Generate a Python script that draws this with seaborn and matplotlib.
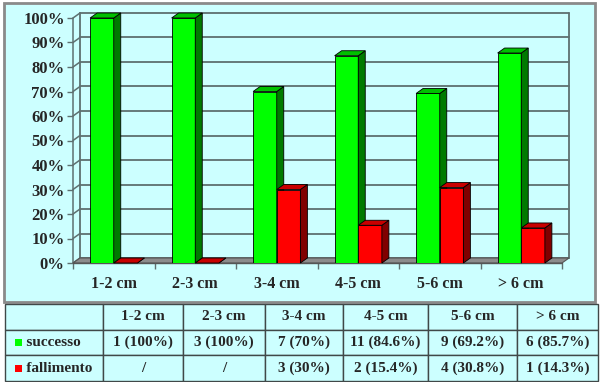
import matplotlib
matplotlib.use("Agg")
import matplotlib.pyplot as plt
from matplotlib.patches import Polygon, Rectangle
import numpy as np
import pandas as pd
import seaborn as sns

sizes = ["1-2 cm", "2-3 cm", "3-4 cm", "4-5 cm", "5-6 cm", "> 6 cm"]
outcomes = ["successo", "fallimento"]
succ_pct = [100, 100, 70, 84.6, 69.2, 85.7]
fail_pct = [0, 0, 30, 15.4, 30.8, 14.3]
succ_n = [1, 3, 7, 11, 9, 6]
fail_n = [None, None, 3, 2, 4, 1]
y_ticks = [0, 10, 20, 30, 40, 50, 60, 70, 80, 90, 100]

BG = "#CCFFFF"
shades = {
    "successo": ("#00FF00", "#007A00", "#00C000"),
    "fallimento": ("#FF0000", "#800000", "#C80000"),
}


def cell_text(n, p):
    if n is None:
        return "/"
    return f"{n} ({p:g}%)"


def main():
    sns.set_style("white")
    plt.rcParams["font.family"] = ["Liberation Serif", "DejaVu Serif"]
    plt.rcParams["font.weight"] = "bold"

    df = pd.DataFrame({
        "size": sizes * 2,
        "esito": ["successo"] * 6 + ["fallimento"] * 6,
        "pct": succ_pct + fail_pct,
    })

    W, H = 600, 382
    fig = plt.figure(figsize=(6, 3.82), dpi=100)
    fig.patch.set_facecolor("white")
    frame = Rectangle((4 / W, (H - 302) / H), 591 / W, 299 / H,
                      transform=fig.transFigure, facecolor=BG,
                      edgecolor="#8A8A8A", linewidth=2, zorder=-5)
    fig.patches.append(frame)

    ax = fig.add_axes([73 / W, (H - 263) / H, 489 / W, 245 / H])
    ax.patch.set_alpha(0)

    sns.barplot(data=df, x="size", y="pct", hue="esito", hue_order=outcomes,
                order=sizes, palette={k: v[0] for k, v in shades.items()},
                width=0.58, gap=0, saturation=1, edgecolor="black",
                linewidth=0.6, legend=False, errorbar=None, ax=ax)

    ax.set_xlim(-0.5, 5.5)
    ax.set_ylim(0, 100)
    for s in ax.spines.values():
        s.set_visible(False)

    # 3D depth offset in data units
    dx, dy = 7 / 81.5, 5 / 2.45
    grid_c = "#5E7070"
    x_left, x_right = -0.5, 5.5

    # back wall grid + left wall connectors
    for v in y_ticks:
        ax.plot([x_left + dx, x_right + dx], [v + dy, v + dy], color=grid_c,
                lw=1.3, zorder=0.5, clip_on=False)
        ax.plot([x_left, x_left + dx], [v, v + dy], color=grid_c, lw=1.1,
                zorder=0.5, clip_on=False)
    for xe in (x_left + dx, x_right + dx):
        ax.plot([xe, xe], [dy, 100 + dy], color=grid_c, lw=1.3, zorder=0.5,
                clip_on=False)
    ax.plot([x_left, x_left], [0, 100], color=grid_c, lw=1.1, zorder=0.5,
            clip_on=False)

    # floor
    ax.add_patch(Polygon([(x_left, 0), (x_right, 0), (x_right + dx, dy),
                          (x_left + dx, dy)], closed=True, facecolor="#8C8C8C",
                         edgecolor="#555555", lw=0.8, zorder=1, clip_on=False))

    # sides and tops of the bars
    for z, (cont, name) in enumerate(zip(ax.containers, outcomes)):
        face, side, top = shades[name]
        for bar in cont:
            x0, w, h = bar.get_x(), bar.get_width(), bar.get_height()
            x1 = x0 + w
            bar.set_zorder(3 + z)
            ax.add_patch(Polygon([(x1, 0), (x1 + dx, dy), (x1 + dx, h + dy),
                                  (x1, h)], closed=True, facecolor=side,
                                 edgecolor="black", lw=0.6, zorder=3 + z,
                                 clip_on=False))
            ax.add_patch(Polygon([(x0, h), (x0 + dx, h + dy), (x1 + dx, h + dy),
                                  (x1, h)], closed=True, facecolor=top,
                                 edgecolor="black", lw=0.6, zorder=3 + z,
                                 clip_on=False))

    ax.set_yticks(y_ticks)
    ax.set_yticklabels([f"{v}%" for v in y_ticks], fontsize=12,
                       fontweight="bold")
    ax.tick_params(axis="y", length=4, width=1, color=grid_c, pad=2, left=True)
    ax.set_xticks(range(len(sizes)))
    ax.set_xticklabels(sizes, fontsize=11.5, fontweight="bold")
    ax.set_xticks(np.arange(-0.5, 6, 1), minor=True)
    ax.tick_params(axis="x", which="major", length=0, pad=9)
    ax.tick_params(axis="x", which="minor", length=4, width=1, color=grid_c,
                   bottom=True)
    ax.plot([x_left, x_right], [0, 0], color="#555555", lw=1, zorder=1.5,
            clip_on=False)
    ax.set_xlabel("")
    ax.set_ylabel("")

    # data table
    tax = fig.add_axes([5 / W, 1 / H, 593 / W, 77 / H])
    tax.axis("off")
    col_px = [98, 80, 82, 78, 85, 89, 81]
    col_w = [c / sum(col_px) for c in col_px]
    rows = [[""] + sizes,
            ["     successo"] + [cell_text(n, p) for n, p in zip(succ_n, succ_pct)],
            ["     fallimento"] + [cell_text(n, p) for n, p in zip(fail_n, fail_pct)]]
    tbl = tax.table(cellText=rows, colWidths=col_w, bbox=[0, 0, 1, 1],
                    cellLoc="center")
    tbl.auto_set_font_size(False)
    for (r, c), cell in tbl.get_celld().items():
        cell.set_facecolor(BG)
        cell.set_edgecolor("#404848")
        cell.set_linewidth(1)
        cell.get_text().set_fontsize(11)
        cell.get_text().set_fontweight("bold")
        if c == 0:
            cell.get_text().set_horizontalalignment("left")
            cell.PAD = 0.02
    # legend keys in the first column
    for r, name in enumerate(outcomes, start=1):
        yc = 1 - (r + 0.5) / 3
        tax.add_patch(Rectangle((10 / 593, yc - 3.5 / 77), 7 / 593, 7 / 77,
                                transform=tax.transAxes,
                                facecolor=shades[name][0], edgecolor="none",
                                zorder=5))

    fig.savefig("out.png", dpi=100, facecolor="white")


if __name__ == "__main__":
    main()
